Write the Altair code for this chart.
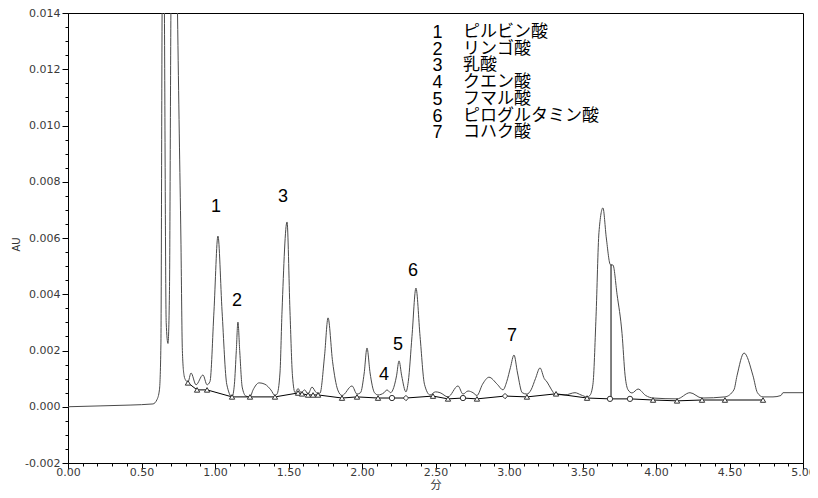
import altair as alt
import pandas as pd

# ---- chromatogram trace (time in min, absorbance in AU) ----
TRACE_T = [0.000, 0.218, 0.422, 0.578, 0.605, 0.622, 0.632, 0.640, 0.648, 0.656,
           0.668, 0.680, 0.690, 0.700, 0.722, 0.745, 0.757, 0.768, 0.778, 0.790,
           0.800, 0.816, 0.837, 0.871, 0.918, 0.946, 0.966, 0.993, 1.020, 1.048,
           1.080, 1.116, 1.132, 1.145, 1.156, 1.168, 1.185, 1.210, 1.238, 1.259,
           1.300, 1.340, 1.380, 1.408, 1.422, 1.442, 1.456, 1.490, 1.510, 1.527,
           1.545, 1.565, 1.585, 1.610, 1.633, 1.660, 1.690, 1.714, 1.745, 1.769,
           1.800, 1.835, 1.864, 1.932, 1.966, 1.990, 2.015, 2.034, 2.055, 2.085,
           2.109, 2.150, 2.170, 2.195, 2.210, 2.235, 2.252, 2.270, 2.299, 2.315,
           2.340, 2.367, 2.395, 2.425, 2.463, 2.500, 2.531, 2.585, 2.653, 2.687,
           2.721, 2.755, 2.782, 2.820, 2.864, 2.920, 2.959, 2.985, 3.010, 3.034,
           3.058, 3.090, 3.122, 3.150, 3.180, 3.211, 3.240, 3.259, 3.290, 3.313,
           3.381, 3.449, 3.490, 3.531, 3.550, 3.571, 3.592, 3.612, 3.639, 3.662,
           3.690, 3.707, 3.735, 3.769, 3.790, 3.810, 3.837, 3.878, 3.930, 3.980,
           4.143, 4.231, 4.313, 4.469, 4.530, 4.551, 4.599, 4.660, 4.690, 4.728,
           4.796, 4.850, 4.864, 5.000]
TRACE_AU = [0.00000, 0.00003, 0.00006, 0.00010, 0.00025, 0.00060, 0.00220, 0.01400, 0.02200, 0.01400,
            0.00300, 0.00225, 0.00400, 0.01400, 0.02500, 0.01400, 0.00970, 0.00600, 0.00200, 0.00110,
            0.00095, 0.00088, 0.00120, 0.00078, 0.00113, 0.00078, 0.00090, 0.00340, 0.00607, 0.00340,
            0.00080, 0.00035, 0.00080, 0.00200, 0.00301, 0.00200, 0.00070, 0.00038, 0.00035, 0.00060,
            0.00085, 0.00080, 0.00060, 0.00040, 0.00045, 0.00120, 0.00340, 0.00657, 0.00340, 0.00110,
            0.00050, 0.00065, 0.00050, 0.00060, 0.00045, 0.00070, 0.00050, 0.00048, 0.00180, 0.00316,
            0.00160, 0.00060, 0.00040, 0.00074, 0.00045, 0.00050, 0.00120, 0.00209, 0.00120, 0.00050,
            0.00042, 0.00050, 0.00060, 0.00050, 0.00060, 0.00110, 0.00163, 0.00110, 0.00053, 0.00090,
            0.00250, 0.00422, 0.00250, 0.00080, 0.00042, 0.00053, 0.00050, 0.00035, 0.00074, 0.00045,
            0.00056, 0.00050, 0.00040, 0.00080, 0.00105, 0.00080, 0.00060, 0.00090, 0.00140, 0.00184,
            0.00120, 0.00050, 0.00045, 0.00060, 0.00100, 0.00138, 0.00100, 0.00088, 0.00060, 0.00045,
            0.00042, 0.00050, 0.00042, 0.00035, 0.00040, 0.00080, 0.00320, 0.00620, 0.00707, 0.00600,
            0.00505, 0.00504, 0.00400, 0.00260, 0.00110, 0.00060, 0.00049, 0.00063, 0.00040, 0.00031,
            0.00028, 0.00050, 0.00031, 0.00035, 0.00060, 0.00110, 0.00191, 0.00110, 0.00050, 0.00035,
            0.00035, 0.00040, 0.00050, 0.00050]

# ---- integration baseline markers ----
MARK_T = [0.816, 0.878, 0.946, 1.116, 1.238, 1.408, 1.565, 1.592, 1.633, 1.667,
          1.701, 1.864, 1.966, 2.109, 2.204, 2.299, 2.483, 2.585, 2.687, 2.782,
          2.973, 3.122, 3.320, 3.531, 3.687, 3.823, 3.980, 4.143, 4.313, 4.469, 4.728]
MARK_AU = [0.00085, 0.00060, 0.00060, 0.00035, 0.00035, 0.00035, 0.00049, 0.00046, 0.00042, 0.00042,
           0.00042, 0.00031, 0.00035, 0.00031, 0.00031, 0.00031, 0.00038, 0.00028, 0.00031, 0.00028,
           0.00038, 0.00035, 0.00046, 0.00031, 0.00028, 0.00028, 0.00024, 0.00021, 0.00024, 0.00024, 0.00024]
MARK_KIND = ["tri", "tri", "tri", "tri", "tri", "tri", "tri", "tri", "tri", "tri",
             "tri", "tri", "tri", "tri", "circle", "diamond", "tri", "tri", "circle", "tri",
             "diamond", "tri", "tri", "tri", "circle", "circle", "tri", "tri", "tri", "tri", "tri"]

# ---- drop line between the two large late peaks ----
DROP_T = [3.694]
DROP_TOP = [0.00505]
DROP_BOTTOM = [0.00028]

# ---- peak numbers ----
PEAK_LABEL = ["1", "2", "3", "4", "5", "6", "7"]
PEAK_LABEL_T = [1.007, 1.150, 1.463, 2.150, 2.245, 2.347, 3.020]
PEAK_LABEL_AU = [0.00710, 0.00376, 0.00746, 0.00113, 0.00220, 0.00483, 0.00251]

# ---- compound list ----
COMPOUND_NO = ["1", "2", "3", "4", "5", "6", "7"]
COMPOUND_NAME = ["ピルビン酸", "リンゴ酸", "乳酸", "クエン酸", "フマル酸", "ピログルタミン酸", "コハク酸"]

# ---- axis ticks ----
X_TICKS = [0.0, 0.1, 0.2, 0.3, 0.4, 0.5, 0.6, 0.7, 0.8, 0.9, 1.0, 1.1, 1.2, 1.3, 1.4, 1.5, 1.6,
           1.7, 1.8, 1.9, 2.0, 2.1, 2.2, 2.3, 2.4, 2.5, 2.6, 2.7, 2.8, 2.9, 3.0, 3.1, 3.2, 3.3,
           3.4, 3.5, 3.6, 3.7, 3.8, 3.9, 4.0, 4.1, 4.2, 4.3, 4.4, 4.5, 4.6, 4.7, 4.8, 4.9, 5.0]
Y_TICKS = [-0.002, -0.0015, -0.001, -0.0005, 0.0, 0.0005, 0.001, 0.0015, 0.002, 0.0025,
           0.003, 0.0035, 0.004, 0.0045, 0.005, 0.0055, 0.006, 0.0065, 0.007, 0.0075,
           0.008, 0.0085, 0.009, 0.0095, 0.01, 0.0105, 0.011, 0.0115, 0.012, 0.0125,
           0.013, 0.0135, 0.014]

trace_df = pd.DataFrame({"t": TRACE_T, "au": TRACE_AU})
mark_df = pd.DataFrame({"t": MARK_T, "au": MARK_AU, "kind": MARK_KIND})
drop_df = pd.DataFrame({"t": DROP_T, "au": DROP_TOP, "au2": DROP_BOTTOM})
label_df = pd.DataFrame({"t": PEAK_LABEL_T, "au": PEAK_LABEL_AU, "label": PEAK_LABEL})
legend_df = pd.DataFrame({"nos": ["\n".join(COMPOUND_NO)], "names": ["\n".join(COMPOUND_NAME)]})

x_scale = alt.Scale(domain=[0, 5], nice=False, zero=False)
y_scale = alt.Scale(domain=[-0.002, 0.014], nice=False, zero=False)

LABEL_FONT = "DejaVu Sans"
MINUS = "\u2212"
X_MAJOR = "abs(datum.value*2 - round(datum.value*2)) < 1e-6"
Y_MAJOR = "abs(datum.value*500 - round(datum.value*500)) < 1e-6"

x_axis = alt.Axis(
    values=X_TICKS,
    title="分",
    titleFont="Noto Sans CJK JP",
    titleFontSize=11,
    titleFontWeight="normal",
    titleColor="#333333",
    titleBaseline="top",
    titleY=16,
    grid=False,
    domainColor="black",
    tickColor="black",
    tickSize={"condition": {"test": X_MAJOR, "value": 6}, "value": 3},
    labelExpr=X_MAJOR + " ? format(datum.value, '.2f') : ''",
    labelOverlap=False,
    labelFlush=False,
    labelFont=LABEL_FONT,
    labelFontSize=11,
    labelColor="#3a3a3a",
    labelPadding=-3,
)

y_axis = alt.Axis(
    values=Y_TICKS,
    title="AU",
    titleFont=LABEL_FONT,
    titleFontSize=10,
    titleFontWeight="normal",
    titleColor="#333333",
    titleX=-52,
    titleY=231,
    titleAlign="center",
    titleBaseline="middle",
    grid=False,
    domainColor="black",
    tickColor="black",
    tickSize={"condition": {"test": Y_MAJOR, "value": 6}, "value": 3},
    labelExpr=Y_MAJOR + " ? replace(format(datum.value, '.3f'), '" + MINUS + "', '-') : ''",
    labelOverlap=False,
    labelFlush=False,
    labelFont=LABEL_FONT,
    labelFontSize=11,
    labelColor="#3a3a3a",
    labelPadding=2,
)

X = alt.X("t:Q", scale=x_scale, axis=x_axis)
Y = alt.Y("au:Q", scale=y_scale, axis=y_axis)

trace = alt.Chart(trace_df).mark_line(
    clip=True, interpolate="monotone", color="#4a4a4a", strokeWidth=1
).encode(x=X, y=Y)

baseline = alt.Chart(mark_df).mark_line(color="black", strokeWidth=1, clip=True).encode(x=X, y=Y)

drop = alt.Chart(drop_df).mark_rule(color="black", strokeWidth=1).encode(x=X, y=Y, y2="au2:Q")

markers = alt.Chart(mark_df).mark_point(
    filled=True, fill="white", stroke="#333333", strokeWidth=1, size=28, opacity=1
).encode(
    x=X,
    y=Y,
    shape=alt.Shape("kind:N", scale=alt.Scale(domain=["tri", "circle", "diamond"],
                                              range=["triangle-up", "circle", "diamond"]),
                    legend=None),
)

NUM_FONT = "Liberation Sans Narrow, Liberation Sans"

peak_labels = alt.Chart(label_df).mark_text(
    font=NUM_FONT, fontSize=18, color="black", align="center", baseline="middle"
).encode(x=X, y=Y, text="label:N")

legend_no = alt.Chart(legend_df).mark_text(
    font=NUM_FONT, fontSize=18, color="black", align="center", baseline="alphabetic",
    lineBreak="\n", lineHeight=16.7
).encode(x=alt.value(369.5), y=alt.value(25), text="nos:N")

legend_name = alt.Chart(legend_df).mark_text(
    font="Noto Sans CJK JP", fontSize=17, color="black", align="left", baseline="alphabetic",
    lineBreak="\n", lineHeight=16.7
).encode(x=alt.value(395), y=alt.value(24), text="names:N")

chart = alt.layer(
    trace, baseline, drop, markers, peak_labels, legend_no, legend_name
).properties(
    width=735,
    height=450,
    autosize=alt.AutoSizeParams(type="none"),
    padding={"left": 60, "top": 5, "right": 7, "bottom": 27},
    background="white",
).configure_view(
    stroke="black", strokeWidth=1
).configure_axis(
    labelOverlap=False
)

chart.save("out.html", embed_options={"renderer": "svg", "actions": False})
